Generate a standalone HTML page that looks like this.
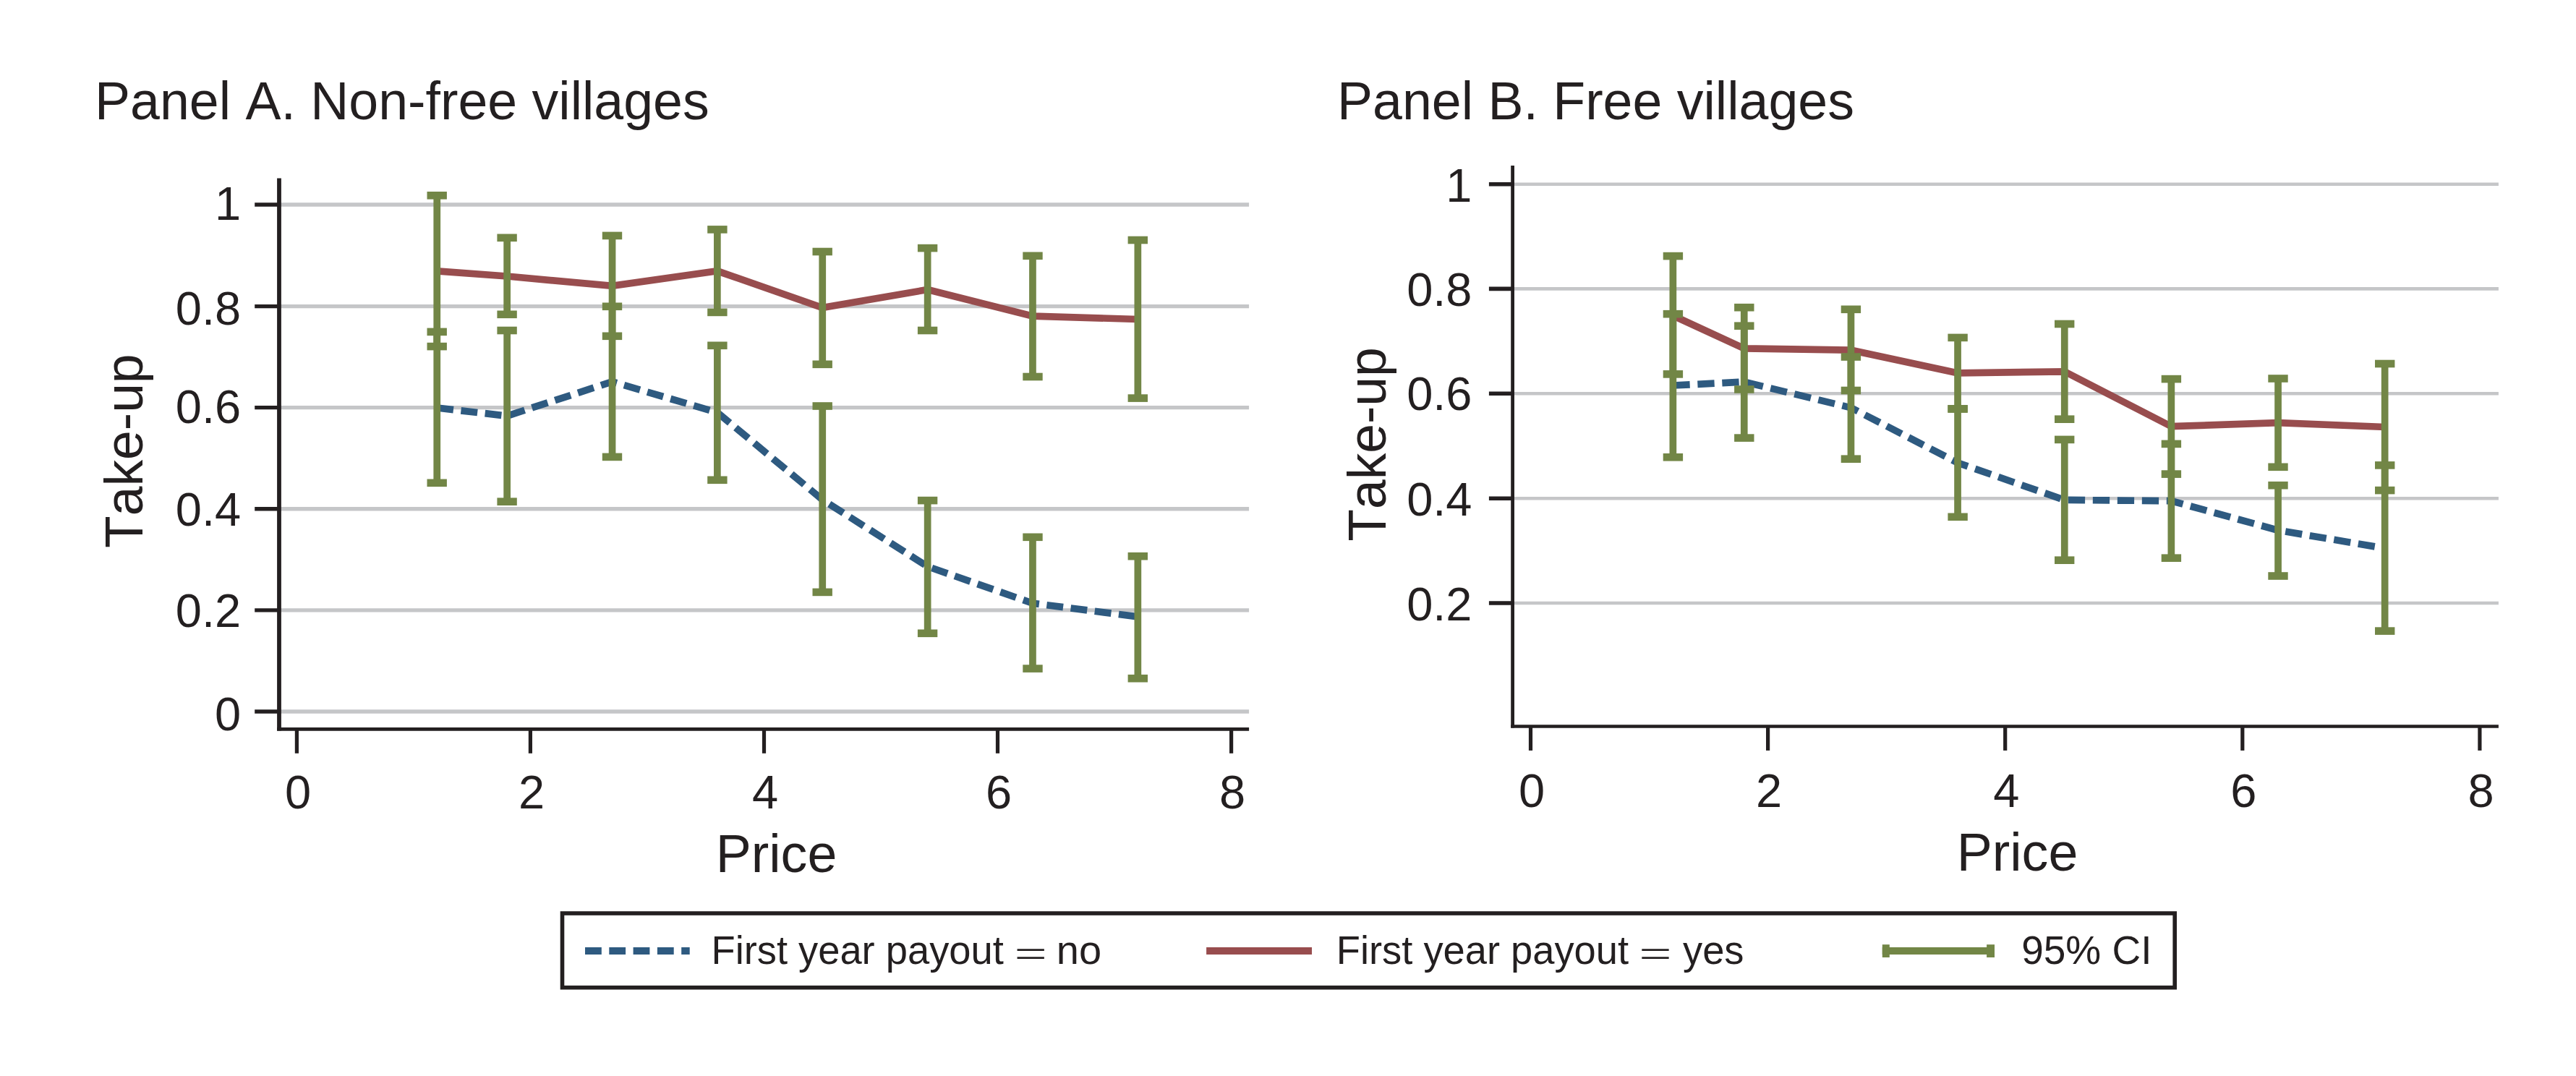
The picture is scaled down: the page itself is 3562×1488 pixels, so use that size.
<!DOCTYPE html>
<html lang="en"><head><meta charset="utf-8"><title>Take-up by price</title>
<style>html,body{margin:0;padding:0;background:#fff}svg{display:block}text{font-family:"Liberation Sans",sans-serif;fill:#231f20;font-kerning:none}</style></head><body>
<svg width="3562" height="1488" viewBox="0 0 3562 1488">
<rect width="3562" height="1488" fill="#fff"/>
<line x1="386" y1="283" x2="1727.1" y2="283" stroke="#c5c6c8" stroke-width="5.4"/>
<line x1="386" y1="423.6" x2="1727.1" y2="423.6" stroke="#c5c6c8" stroke-width="5.4"/>
<line x1="386" y1="563.6" x2="1727.1" y2="563.6" stroke="#c5c6c8" stroke-width="5.4"/>
<line x1="386" y1="703.8" x2="1727.1" y2="703.8" stroke="#c5c6c8" stroke-width="5.4"/>
<line x1="386" y1="843.9" x2="1727.1" y2="843.9" stroke="#c5c6c8" stroke-width="5.4"/>
<line x1="386" y1="984" x2="1727.1" y2="984" stroke="#c5c6c8" stroke-width="5.4"/>
<polyline points="604.2,564 701.1,575.2 846.5,527.9 991.9,570.4 1137.2,691 1282.6,783.4 1428,834.3 1573.3,852.8" fill="none" stroke="#2e5a80" stroke-width="9.7" stroke-dasharray="22.9 10.55" stroke-linejoin="miter"/>
<polyline points="604.2,374.8 701.1,382 846.5,395.4 991.9,374.8 1137.2,425.6 1282.6,400.5 1428,437.1 1573.3,441.5" fill="none" stroke="#984d4e" stroke-width="9.7" stroke-linejoin="miter"/>
<rect x="599.4" y="270.3" width="9.7" height="208.8" fill="#728646"/>
<rect x="590.5" y="265" width="27.4" height="10.6" fill="#728646"/>
<rect x="590.5" y="473.8" width="27.4" height="10.6" fill="#728646"/>
<rect x="599.4" y="458.9" width="9.7" height="208.9" fill="#728646"/>
<rect x="590.5" y="453.6" width="27.4" height="10.6" fill="#728646"/>
<rect x="590.5" y="662.5" width="27.4" height="10.6" fill="#728646"/>
<rect x="696.3" y="328.8" width="9.7" height="106" fill="#728646"/>
<rect x="687.4" y="323.5" width="27.4" height="10.6" fill="#728646"/>
<rect x="687.4" y="429.5" width="27.4" height="10.6" fill="#728646"/>
<rect x="696.3" y="457" width="9.7" height="236.7" fill="#728646"/>
<rect x="687.4" y="451.7" width="27.4" height="10.6" fill="#728646"/>
<rect x="687.4" y="688.4" width="27.4" height="10.6" fill="#728646"/>
<rect x="841.7" y="325.9" width="9.7" height="138.9" fill="#728646"/>
<rect x="832.8" y="320.6" width="27.4" height="10.6" fill="#728646"/>
<rect x="832.8" y="459.5" width="27.4" height="10.6" fill="#728646"/>
<rect x="841.7" y="423.8" width="9.7" height="208.1" fill="#728646"/>
<rect x="832.8" y="418.5" width="27.4" height="10.6" fill="#728646"/>
<rect x="832.8" y="626.6" width="27.4" height="10.6" fill="#728646"/>
<rect x="987" y="317.4" width="9.7" height="114.5" fill="#728646"/>
<rect x="978.2" y="312.1" width="27.4" height="10.6" fill="#728646"/>
<rect x="978.2" y="426.6" width="27.4" height="10.6" fill="#728646"/>
<rect x="987" y="477.8" width="9.7" height="186" fill="#728646"/>
<rect x="978.2" y="472.5" width="27.4" height="10.6" fill="#728646"/>
<rect x="978.2" y="658.5" width="27.4" height="10.6" fill="#728646"/>
<rect x="1132.4" y="348" width="9.7" height="155.8" fill="#728646"/>
<rect x="1123.5" y="342.7" width="27.4" height="10.6" fill="#728646"/>
<rect x="1123.5" y="498.5" width="27.4" height="10.6" fill="#728646"/>
<rect x="1132.4" y="561.5" width="9.7" height="257.4" fill="#728646"/>
<rect x="1123.5" y="556.2" width="27.4" height="10.6" fill="#728646"/>
<rect x="1123.5" y="813.6" width="27.4" height="10.6" fill="#728646"/>
<rect x="1277.8" y="343.1" width="9.7" height="113.9" fill="#728646"/>
<rect x="1268.9" y="337.8" width="27.4" height="10.6" fill="#728646"/>
<rect x="1268.9" y="451.7" width="27.4" height="10.6" fill="#728646"/>
<rect x="1277.8" y="692.1" width="9.7" height="183.7" fill="#728646"/>
<rect x="1268.9" y="686.8" width="27.4" height="10.6" fill="#728646"/>
<rect x="1268.9" y="870.5" width="27.4" height="10.6" fill="#728646"/>
<rect x="1423.1" y="353.8" width="9.7" height="167.2" fill="#728646"/>
<rect x="1414.3" y="348.5" width="27.4" height="10.6" fill="#728646"/>
<rect x="1414.3" y="515.7" width="27.4" height="10.6" fill="#728646"/>
<rect x="1423.1" y="742.8" width="9.7" height="181.8" fill="#728646"/>
<rect x="1414.3" y="737.5" width="27.4" height="10.6" fill="#728646"/>
<rect x="1414.3" y="919.3" width="27.4" height="10.6" fill="#728646"/>
<rect x="1568.5" y="332" width="9.7" height="218.6" fill="#728646"/>
<rect x="1559.6" y="326.7" width="27.4" height="10.6" fill="#728646"/>
<rect x="1559.6" y="545.3" width="27.4" height="10.6" fill="#728646"/>
<rect x="1568.5" y="769.2" width="9.7" height="169" fill="#728646"/>
<rect x="1559.6" y="763.9" width="27.4" height="10.6" fill="#728646"/>
<rect x="1559.6" y="932.9" width="27.4" height="10.6" fill="#728646"/>
<line x1="386" y1="246.4" x2="386" y2="1010.6" stroke="#231f20" stroke-width="5.8"/>
<line x1="383.1" y1="1008.3" x2="1727.1" y2="1008.3" stroke="#231f20" stroke-width="4.7"/>
<line x1="352.2" y1="283" x2="386" y2="283" stroke="#231f20" stroke-width="5.4"/>
<line x1="352.2" y1="423.6" x2="386" y2="423.6" stroke="#231f20" stroke-width="5.4"/>
<line x1="352.2" y1="563.6" x2="386" y2="563.6" stroke="#231f20" stroke-width="5.4"/>
<line x1="352.2" y1="703.8" x2="386" y2="703.8" stroke="#231f20" stroke-width="5.4"/>
<line x1="352.2" y1="843.9" x2="386" y2="843.9" stroke="#231f20" stroke-width="5.4"/>
<line x1="352.2" y1="984" x2="386" y2="984" stroke="#231f20" stroke-width="5.4"/>
<line x1="410.4" y1="1008.3" x2="410.4" y2="1041.8" stroke="#231f20" stroke-width="5.2"/>
<text transform="translate(412 1118.2)" font-size="65" text-anchor="middle">0</text>
<line x1="733.4" y1="1008.3" x2="733.4" y2="1041.8" stroke="#231f20" stroke-width="5.2"/>
<text transform="translate(735 1118.2)" font-size="65" text-anchor="middle">2</text>
<line x1="1056.5" y1="1008.3" x2="1056.5" y2="1041.8" stroke="#231f20" stroke-width="5.2"/>
<text transform="translate(1058.1 1118.2)" font-size="65" text-anchor="middle">4</text>
<line x1="1379.5" y1="1008.3" x2="1379.5" y2="1041.8" stroke="#231f20" stroke-width="5.2"/>
<text transform="translate(1381.1 1118.2)" font-size="65" text-anchor="middle">6</text>
<line x1="1702.6" y1="1008.3" x2="1702.6" y2="1041.8" stroke="#231f20" stroke-width="5.2"/>
<text transform="translate(1704.2 1118.2)" font-size="65" text-anchor="middle">8</text>
<text transform="translate(333.2 304)" font-size="65" text-anchor="end">1</text>
<text transform="translate(333.2 448.6)" font-size="65" text-anchor="end">0.8</text>
<text transform="translate(333.2 585)" font-size="65" text-anchor="end">0.6</text>
<text transform="translate(333.2 727)" font-size="65" text-anchor="end">0.4</text>
<text transform="translate(333.2 867)" font-size="65" text-anchor="end">0.2</text>
<text transform="translate(333.2 1009.6)" font-size="65" text-anchor="end">0</text>
<text transform="translate(131 165) scale(1 1.012)" font-size="73.5" text-anchor="start">Panel A. Non-free villages</text>
<text transform="translate(1073.5 1205.9) scale(1 1.012)" font-size="73.6" text-anchor="middle">Price</text>
<text transform="translate(197.3 623.7) rotate(-90) scale(1 1.012)" font-size="73.2" text-anchor="middle">Take-up</text>
<line x1="2091.6" y1="254.7" x2="3454.9" y2="254.7" stroke="#c5c6c8" stroke-width="4.6"/>
<line x1="2091.6" y1="399.4" x2="3454.9" y2="399.4" stroke="#c5c6c8" stroke-width="4.6"/>
<line x1="2091.6" y1="544.2" x2="3454.9" y2="544.2" stroke="#c5c6c8" stroke-width="4.6"/>
<line x1="2091.6" y1="689.2" x2="3454.9" y2="689.2" stroke="#c5c6c8" stroke-width="4.6"/>
<line x1="2091.6" y1="834" x2="3454.9" y2="834" stroke="#c5c6c8" stroke-width="4.6"/>
<polyline points="2313.4,533 2411.8,528.1 2559.4,563.8 2707.1,640 2854.7,691.4 3002.4,692.7 3150,733.3 3297.7,758.2" fill="none" stroke="#2e5a80" stroke-width="9.7" stroke-dasharray="23.3 10.7" stroke-linejoin="miter"/>
<polyline points="2313.4,436.5 2411.8,481.8 2559.4,484.2 2707.1,515.9 2854.7,513.8 3002.4,589.7 3150,584.6 3297.7,590.5" fill="none" stroke="#984d4e" stroke-width="9.7" stroke-linejoin="miter"/>
<rect x="2308.5" y="354.1" width="9.7" height="163.3" fill="#728646"/>
<rect x="2299.7" y="348.8" width="27.4" height="10.6" fill="#728646"/>
<rect x="2299.7" y="512.1" width="27.4" height="10.6" fill="#728646"/>
<rect x="2308.5" y="434.2" width="9.7" height="198.1" fill="#728646"/>
<rect x="2299.7" y="428.9" width="27.4" height="10.6" fill="#728646"/>
<rect x="2299.7" y="627" width="27.4" height="10.6" fill="#728646"/>
<rect x="2406.9" y="425.2" width="9.7" height="113.3" fill="#728646"/>
<rect x="2398.1" y="419.9" width="27.4" height="10.6" fill="#728646"/>
<rect x="2398.1" y="533.2" width="27.4" height="10.6" fill="#728646"/>
<rect x="2406.9" y="450.7" width="9.7" height="154.9" fill="#728646"/>
<rect x="2398.1" y="445.4" width="27.4" height="10.6" fill="#728646"/>
<rect x="2398.1" y="600.3" width="27.4" height="10.6" fill="#728646"/>
<rect x="2554.6" y="427.8" width="9.7" height="112.2" fill="#728646"/>
<rect x="2545.7" y="422.5" width="27.4" height="10.6" fill="#728646"/>
<rect x="2545.7" y="534.7" width="27.4" height="10.6" fill="#728646"/>
<rect x="2554.6" y="493.5" width="9.7" height="141.2" fill="#728646"/>
<rect x="2545.7" y="488.2" width="27.4" height="10.6" fill="#728646"/>
<rect x="2545.7" y="629.4" width="27.4" height="10.6" fill="#728646"/>
<rect x="2702.2" y="466.9" width="9.7" height="98.5" fill="#728646"/>
<rect x="2693.4" y="461.6" width="27.4" height="10.6" fill="#728646"/>
<rect x="2693.4" y="560.1" width="27.4" height="10.6" fill="#728646"/>
<rect x="2702.2" y="565.4" width="9.7" height="149.4" fill="#728646"/>
<rect x="2693.4" y="560.1" width="27.4" height="10.6" fill="#728646"/>
<rect x="2693.4" y="709.5" width="27.4" height="10.6" fill="#728646"/>
<rect x="2849.9" y="448" width="9.7" height="131.7" fill="#728646"/>
<rect x="2841" y="442.7" width="27.4" height="10.6" fill="#728646"/>
<rect x="2841" y="574.4" width="27.4" height="10.6" fill="#728646"/>
<rect x="2849.9" y="607.9" width="9.7" height="166.8" fill="#728646"/>
<rect x="2841" y="602.6" width="27.4" height="10.6" fill="#728646"/>
<rect x="2841" y="769.4" width="27.4" height="10.6" fill="#728646"/>
<rect x="2997.5" y="524.1" width="9.7" height="131.5" fill="#728646"/>
<rect x="2988.7" y="518.8" width="27.4" height="10.6" fill="#728646"/>
<rect x="2988.7" y="650.3" width="27.4" height="10.6" fill="#728646"/>
<rect x="2997.5" y="613.9" width="9.7" height="157.8" fill="#728646"/>
<rect x="2988.7" y="608.6" width="27.4" height="10.6" fill="#728646"/>
<rect x="2988.7" y="766.4" width="27.4" height="10.6" fill="#728646"/>
<rect x="3145.2" y="523.5" width="9.7" height="122.3" fill="#728646"/>
<rect x="3136.3" y="518.2" width="27.4" height="10.6" fill="#728646"/>
<rect x="3136.3" y="640.5" width="27.4" height="10.6" fill="#728646"/>
<rect x="3145.2" y="671.2" width="9.7" height="125.3" fill="#728646"/>
<rect x="3136.3" y="665.9" width="27.4" height="10.6" fill="#728646"/>
<rect x="3136.3" y="791.2" width="27.4" height="10.6" fill="#728646"/>
<rect x="3292.8" y="503" width="9.7" height="175.1" fill="#728646"/>
<rect x="3284" y="497.7" width="27.4" height="10.6" fill="#728646"/>
<rect x="3284" y="672.8" width="27.4" height="10.6" fill="#728646"/>
<rect x="3292.8" y="643.4" width="9.7" height="229.2" fill="#728646"/>
<rect x="3284" y="638.1" width="27.4" height="10.6" fill="#728646"/>
<rect x="3284" y="867.3" width="27.4" height="10.6" fill="#728646"/>
<line x1="2091.6" y1="229" x2="2091.6" y2="1006.6" stroke="#231f20" stroke-width="4.8"/>
<line x1="2089.2" y1="1004.4" x2="3454.9" y2="1004.4" stroke="#231f20" stroke-width="4.5"/>
<line x1="2058.9" y1="254.7" x2="2091.6" y2="254.7" stroke="#231f20" stroke-width="5.6"/>
<line x1="2058.9" y1="399.4" x2="2091.6" y2="399.4" stroke="#231f20" stroke-width="5.6"/>
<line x1="2058.9" y1="544.2" x2="2091.6" y2="544.2" stroke="#231f20" stroke-width="5.6"/>
<line x1="2058.9" y1="689.2" x2="2091.6" y2="689.2" stroke="#231f20" stroke-width="5.6"/>
<line x1="2058.9" y1="834" x2="2091.6" y2="834" stroke="#231f20" stroke-width="5.6"/>
<line x1="2116.5" y1="1004.4" x2="2116.5" y2="1037.9" stroke="#231f20" stroke-width="5.2"/>
<text transform="translate(2118.1 1115.5)" font-size="65" text-anchor="middle">0</text>
<line x1="2444.6" y1="1004.4" x2="2444.6" y2="1037.9" stroke="#231f20" stroke-width="5.2"/>
<text transform="translate(2446.2 1115.5)" font-size="65" text-anchor="middle">2</text>
<line x1="2772.7" y1="1004.4" x2="2772.7" y2="1037.9" stroke="#231f20" stroke-width="5.2"/>
<text transform="translate(2774.3 1115.5)" font-size="65" text-anchor="middle">4</text>
<line x1="3100.8" y1="1004.4" x2="3100.8" y2="1037.9" stroke="#231f20" stroke-width="5.2"/>
<text transform="translate(3102.4 1115.5)" font-size="65" text-anchor="middle">6</text>
<line x1="3428.9" y1="1004.4" x2="3428.9" y2="1037.9" stroke="#231f20" stroke-width="5.2"/>
<text transform="translate(3430.5 1115.5)" font-size="65" text-anchor="middle">8</text>
<text transform="translate(2035.5 279)" font-size="65" text-anchor="end">1</text>
<text transform="translate(2035.5 422.5)" font-size="65" text-anchor="end">0.8</text>
<text transform="translate(2035.5 567)" font-size="65" text-anchor="end">0.6</text>
<text transform="translate(2035.5 713)" font-size="65" text-anchor="end">0.4</text>
<text transform="translate(2035.5 858)" font-size="65" text-anchor="end">0.2</text>
<text transform="translate(1849 165.2) scale(1 1.012)" font-size="73.5" text-anchor="start">Panel B. Free villages</text>
<text transform="translate(2789.5 1204.2) scale(1 1.012)" font-size="73.6" text-anchor="middle">Price</text>
<text transform="translate(1915.5 614.5) rotate(-90) scale(1 1.012)" font-size="73.2" text-anchor="middle">Take-up</text>
<rect x="777.5" y="1263" width="2229.7" height="102.7" fill="#fff" stroke="#231f20" stroke-width="5.6"/>
<line x1="809" y1="1315" x2="953.7" y2="1315" stroke="#2e5a80" stroke-width="10" stroke-dasharray="22.8 10.5"/>
<line x1="1668.1" y1="1315" x2="1814" y2="1315" stroke="#984d4e" stroke-width="10"/>
<line x1="2602.8" y1="1315" x2="2758" y2="1315" stroke="#728646" stroke-width="10"/>
<rect x="2602.8" y="1306.2" width="10" height="17.8" fill="#728646"/>
<rect x="2747.1" y="1306.2" width="10.9" height="17.8" fill="#728646"/>
<text transform="translate(983.5 1333.4) scale(1 1.020)" font-size="54.3" text-anchor="start">First year payout</text>
<text transform="translate(1425.3 1340.9) scale(1 1.130)" font-size="59.6" text-anchor="middle" style="font-family:'DejaVu Sans Light','DejaVu Sans','Liberation Sans',sans-serif;font-weight:200">=</text>
<text transform="translate(1460.8 1333.4)" font-size="56" text-anchor="start">no</text>
<text transform="translate(1847.8 1333.4) scale(1 1.020)" font-size="54.3" text-anchor="start">First year payout</text>
<text transform="translate(2289 1340.9) scale(1 1.130)" font-size="59.6" text-anchor="middle" style="font-family:'DejaVu Sans Light','DejaVu Sans','Liberation Sans',sans-serif;font-weight:200">=</text>
<text transform="translate(2327 1333.4) scale(1 1.020)" font-size="54.3" text-anchor="start">yes</text>
<text transform="translate(2795.2 1333.4) scale(1 1.025)" font-size="55" text-anchor="start">95% CI</text>
</svg></body></html>
